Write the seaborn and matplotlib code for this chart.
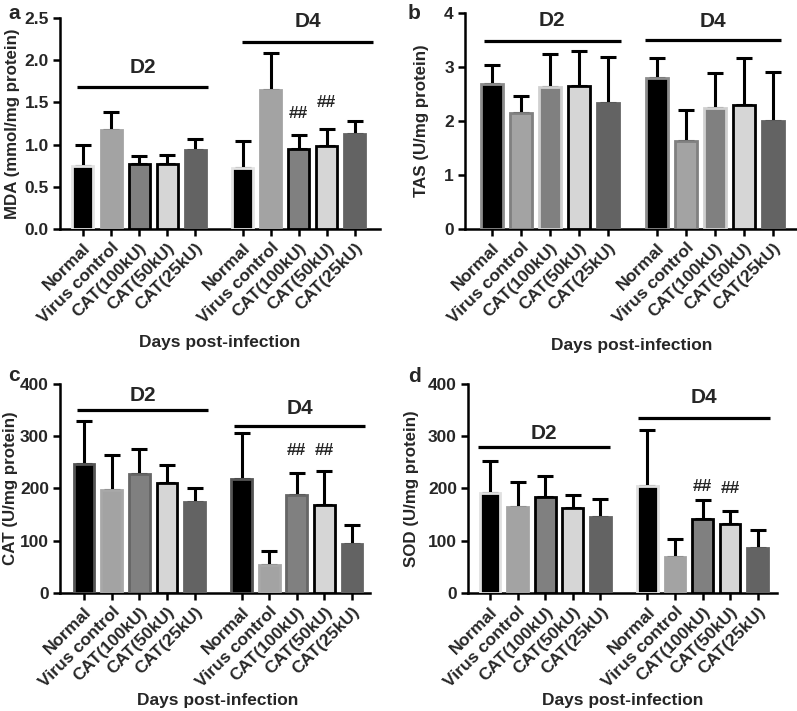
import numpy as np
import seaborn as sns
import matplotlib.pyplot as plt

# treatments within each day group
groups = ["D2", "D4"]
treatments = ["Normal", "Virus control", "CAT(100kU)", "CAT(50kU)", "CAT(25kU)"]

# means (D2 then D4) and upper SD
mda_mean = [0.74, 1.17, 0.77, 0.77, 0.94, 0.72, 1.65, 0.95, 0.98, 1.13]
mda_err = [0.26, 0.22, 0.10, 0.11, 0.12, 0.32, 0.43, 0.16, 0.20, 0.15]

tas_mean = [2.68, 2.15, 2.62, 2.65, 2.33, 2.80, 1.62, 2.24, 2.30, 2.00]
tas_err = [0.35, 0.31, 0.62, 0.64, 0.85, 0.37, 0.59, 0.64, 0.86, 0.90]

cat_mean = [246, 198, 227, 210, 175, 219, 53, 187, 169, 94]
cat_err = [83, 66, 49, 34, 26, 87, 27, 43, 65, 36]

sod_mean = [191, 164, 183, 163, 146, 204, 69, 142, 132, 86]
sod_err = [62, 49, 41, 25, 33, 107, 34, 35, 24, 35]

# bars flagged with ## (index into the 10 bars)
hash_bars = [7, 8]

sns.set_style("ticks")
plt.rcParams['font.family'] = ['Liberation Sans', 'DejaVu Sans']
plt.rcParams['font.weight'] = 'bold'
plt.rcParams['axes.labelweight'] = 'bold'

fills = ["#000000", "#a3a3a3", "#808080", "#d6d6d6", "#636363"]

# x positions: a wider gap between the two day groups
pos = np.concatenate([np.arange(5), np.arange(5) + 5.7])

panels = [
    dict(letter="a", mean=mda_mean, err=mda_err, ylabel="MDA (mmol/mg protein)",
         rect=[0.0753, 0.678, 0.4015, 0.2968], ylim=2.5, yticks=np.arange(0, 2.51, 0.5), fmt="%.1f",
         xlim=(-0.82, 10.6), edges=["#e4e4e4", "#a3a3a3", "#000000", "#000000", "#636363"],
         lines=[(-0.21, 4.46, 1.68, 1.91), (5.67, 10.36, 2.22, 2.46)], hashes=[1.37, 1.50],
         letter_xy=(8, 4), xlabel_xy=(220, 342), ylabel_x=-0.125),
    dict(letter="b", mean=tas_mean, err=tas_err, ylabel="TAS (U/mg protein)",
         rect=[0.5834, 0.678, 0.4153, 0.3038], ylim=4, yticks=np.arange(0, 5), fmt="%d",
         xlim=(-0.93, 10.5), edges=["#8c8c8c", "#808080", "#d0d0d0", "#000000", "#636363"],
         lines=[(-0.28, 4.45, 3.48, 3.86), (5.28, 10.0, 3.49, 3.84)], hashes=None,
         letter_xy=(408, 4), xlabel_xy=(632, 345), ylabel_x=-0.109),
    dict(letter="c", mean=cat_mean, err=cat_err, ylabel="CAT (U/mg protein)",
         rect=[0.0753, 0.166, 0.389, 0.294], ylim=400, yticks=np.arange(0, 401, 100), fmt="%d",
         xlim=(-0.87, 10.35), edges=["#555555", "#a8a8a8", "#666666", "#000000", "#636363"],
         lines=[(-0.25, 4.5, 351, 377), (5.42, 10.18, 319, 353)], hashes=[272, 272],
         letter_xy=(8, 366), xlabel_xy=(218, 700), ylabel_x=-0.135),
    dict(letter="d", mean=sod_mean, err=sod_err, ylabel="SOD (U/mg protein)",
         rect=[0.5872, 0.166, 0.3877, 0.294], ylim=400, yticks=np.arange(0, 401, 100), fmt="%d",
         xlim=(-0.8, 10.4), edges=["#e0e0e0", "#a3a3a3", "#000000", "#000000", "#636363"],
         lines=[(-0.44, 4.33, 279, 306), (5.38, 10.15, 335, 374)], hashes=[204, 199],
         letter_xy=(408, 367), xlabel_xy=(623, 700), ylabel_x=-0.159),
]

W, H = 797, 711
fig = plt.figure(figsize=(W / 100, H / 100), dpi=100)

for p in panels:
    ax = fig.add_axes(p["rect"])
    sns.barplot(x=pos, y=p["mean"], native_scale=True, width=0.75, errorbar=None,
                color="gray", ax=ax, zorder=3)
    for i, bar in enumerate(ax.patches):
        bar.set_facecolor(fills[i % 5])
        bar.set_edgecolor(p["edges"][i % 5])
        bar.set_linewidth(2.0)
    ax.errorbar(pos, p["mean"], yerr=[np.zeros(10), p["err"]], fmt="none",
                ecolor="black", elinewidth=2.2, capsize=5.5, capthick=2.2, zorder=2)

    ax.set_xlim(*p["xlim"])
    ax.set_ylim(0, p["ylim"])
    ax.set_yticks(p["yticks"])
    ax.set_yticklabels([p["fmt"] % v for v in p["yticks"]], fontsize=12.5, fontweight="bold")
    ax.set_xticks(pos)
    ax.set_xticklabels(treatments * 2, rotation=45, ha="right", rotation_mode="anchor",
                       fontsize=12.5, fontweight="bold")
    ax.tick_params(axis="both", width=1.8, length=5, color="black", pad=3)
    sns.despine(ax=ax)
    for s in ["left", "bottom"]:
        ax.spines[s].set_linewidth(1.8)
        ax.spines[s].set_color("black")
    ax.set_xlabel("")
    ax.set_ylabel(p["ylabel"], fontsize=12.2, fontweight="bold")
    ax.yaxis.set_label_coords(p["ylabel_x"], 0.5)

    for (x0, x1, ly, ty), g in zip(p["lines"], groups):
        ax.plot([x0, x1], [ly, ly], color="black", lw=2.3, clip_on=False, solid_capstyle="butt")
        ax.text((x0 + x1) / 2, ty, g, ha="center", va="center", fontsize=15,
                fontweight="bold", clip_on=False)

    if p["hashes"]:
        for i, hy in zip(hash_bars, p["hashes"]):
            ax.text(pos[i], hy, "##", ha="center", va="center", fontsize=12.5, fontweight="bold")

    fig.text(p["letter_xy"][0] / W, 1 - p["letter_xy"][1] / H, p["letter"],
             ha="left", va="top", fontsize=15, fontweight="bold")
    fig.text(p["xlabel_xy"][0] / W, 1 - p["xlabel_xy"][1] / H, "Days post-infection",
             ha="center", va="center", fontsize=12.5, fontweight="bold")

fig.savefig("out.png", dpi=100)
